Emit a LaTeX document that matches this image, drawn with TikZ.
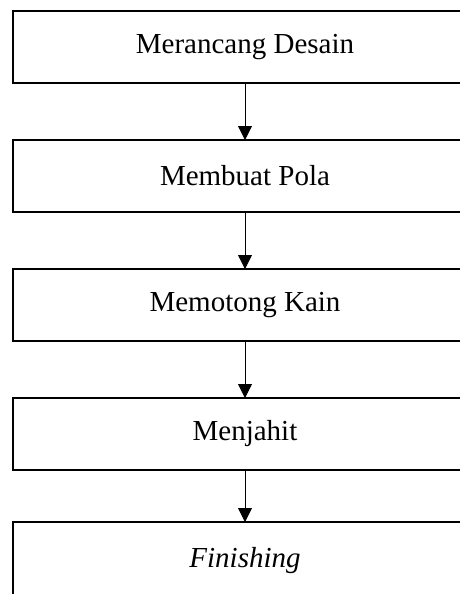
\documentclass[tikz,border=0pt]{standalone}
\usepackage{fontspec}
\setmainfont{Liberation Serif}
\usetikzlibrary{positioning,arrows.meta}

\begin{document}
\begin{tikzpicture}[->,>={Triangle[length=14pt,width=14pt]},node distance=57pt,thick]
\tikzstyle{proses}=[draw=black,text=black,line width=2pt,rectangle,outer sep=0pt,
  minimum width=465pt,minimum height=72pt,font=\fontsize{29}{35}\selectfont]
\clip (0,0) rectangle (460pt,-594pt);
\node[proses] (desain) at (245pt,-47pt) {Merancang Desain};
\node[proses][below=of desain](pola){Membuat Pola};
\node[proses][below=of pola](potong){Memotong Kain};
\node[proses][below=of potong](jahit){Menjahit};
\node[proses,minimum height=78pt][below=52pt of jahit](finish){\textit{Finishing}};
\path (desain)edge(pola)
      (pola)edge(potong)
      (potong)edge(jahit)
      (jahit)edge(finish);

\end{tikzpicture}
\end{document}
